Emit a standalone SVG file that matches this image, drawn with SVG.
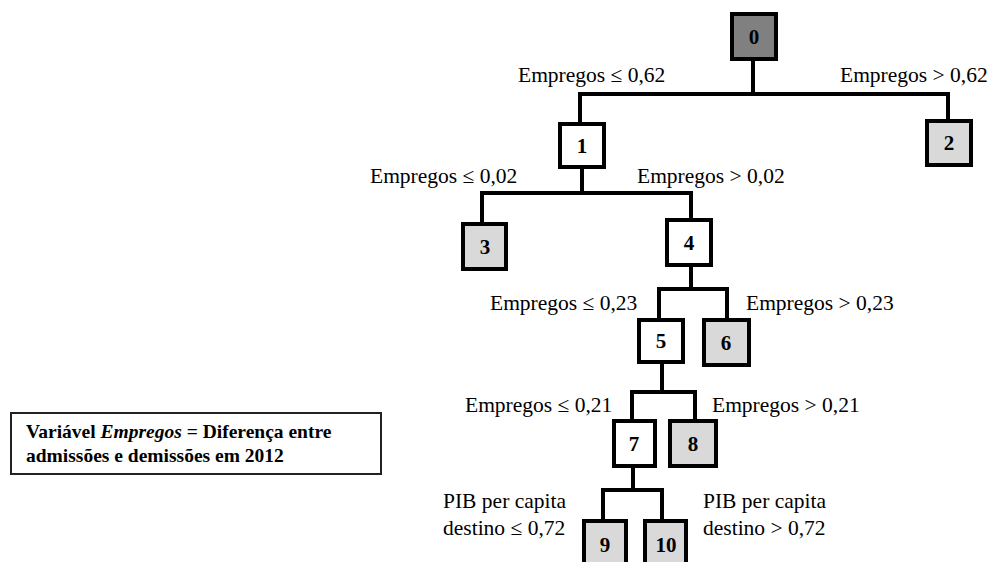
<svg xmlns="http://www.w3.org/2000/svg" width="991" height="562" viewBox="0 0 991 562">
<style>
.n rect{stroke:#000;stroke-width:4;}
.int{fill:#fff;}
.leaf{fill:#d9d9d9;}
.root{fill:#808080;}
.n text{font-family:"Times New Roman","Liberation Serif","DejaVu Serif",serif;font-weight:bold;font-size:21px;text-anchor:middle;fill:#000;}
.lbl{font-family:"Times New Roman","Liberation Serif","DejaVu Serif",serif;font-size:21.5px;fill:#000;}
.leg{font-family:"Times New Roman","Liberation Serif","DejaVu Serif",serif;font-weight:bold;font-size:19.5px;fill:#000;}
#connectors path{fill:none;stroke:#000;stroke-width:4;}
</style>
<rect width="991" height="562" fill="#fff"/>
<g id="connectors">
<path d="M753,59 V94 M578,94 H950 M580,94 V124 M948,94 V121"/>
<path d="M582,167 V193 M480,193 H693 M482,193 V224 M691,193 V220"/>
<path d="M691,267 V289 M657,289 H729 M659,289 V320 M727,289 V320"/>
<path d="M662,362 V392 M630,392 H697 M632,392 V421 M695,392 V421"/>
<path d="M633,466 V490 M601,490 H664 M603,490 V521 M662,490 V521"/>
</g>
<g id="node0" class="n"><rect class="root" x="732" y="14" width="44" height="45"/><text x="754" y="44">0</text></g>
<g id="node1" class="n"><rect class="int" x="560" y="124" width="44" height="43"/><text x="582" y="153">1</text></g>
<g id="node2" class="n"><rect class="leaf" x="927" y="121" width="44" height="44"/><text x="949" y="150">2</text></g>
<g id="node3" class="n"><rect class="leaf" x="463" y="224" width="43" height="45"/><text x="485" y="254">3</text></g>
<g id="node4" class="n"><rect class="int" x="667" y="220" width="44" height="45"/><text x="689" y="250">4</text></g>
<g id="node5" class="n"><rect class="int" x="639" y="320" width="44" height="42"/><text x="661" y="348">5</text></g>
<g id="node6" class="n"><rect class="leaf" x="704" y="320" width="45" height="45"/><text x="726" y="350">6</text></g>
<g id="node7" class="n"><rect class="int" x="614" y="421" width="41" height="45"/><text x="634" y="451">7</text></g>
<g id="node8" class="n"><rect class="leaf" x="670" y="421" width="46" height="45"/><text x="693" y="451">8</text></g>
<g id="node9" class="n"><rect class="leaf" x="584" y="521" width="42" height="50"/><text x="605" y="552">9</text></g>
<g id="node10" class="n"><rect class="leaf" x="645" y="521" width="41" height="50"/><text x="666" y="552">10</text></g>
<g id="labels">
<text class="lbl" x="518" y="82">Empregos ≤ 0,62</text>
<text class="lbl" x="840" y="82">Empregos &gt; 0,62</text>
<text class="lbl" x="370" y="183">Empregos ≤ 0,02</text>
<text class="lbl" x="637" y="183">Empregos &gt; 0,02</text>
<text class="lbl" x="490" y="310">Empregos ≤ 0,23</text>
<text class="lbl" x="746" y="310">Empregos &gt; 0,23</text>
<text class="lbl" x="465" y="412">Empregos ≤ 0,21</text>
<text class="lbl" x="712" y="412">Empregos &gt; 0,21</text>
<text class="lbl" x="443" y="508">PIB per capita</text>
<text class="lbl" x="443" y="535">destino ≤ 0,72</text>
<text class="lbl" x="703" y="508">PIB per capita</text>
<text class="lbl" x="703" y="535">destino &gt; 0,72</text>
</g>
<g id="legend">
<rect x="11" y="413" width="370" height="61" fill="#fff" stroke="#222" stroke-width="2"/>
<text class="leg" x="26" y="438">Variável <tspan font-style="italic">Empregos</tspan> = Diferença entre</text>
<text class="leg" x="26" y="462">admissões e demissões em 2012</text>
</g>
</svg>
